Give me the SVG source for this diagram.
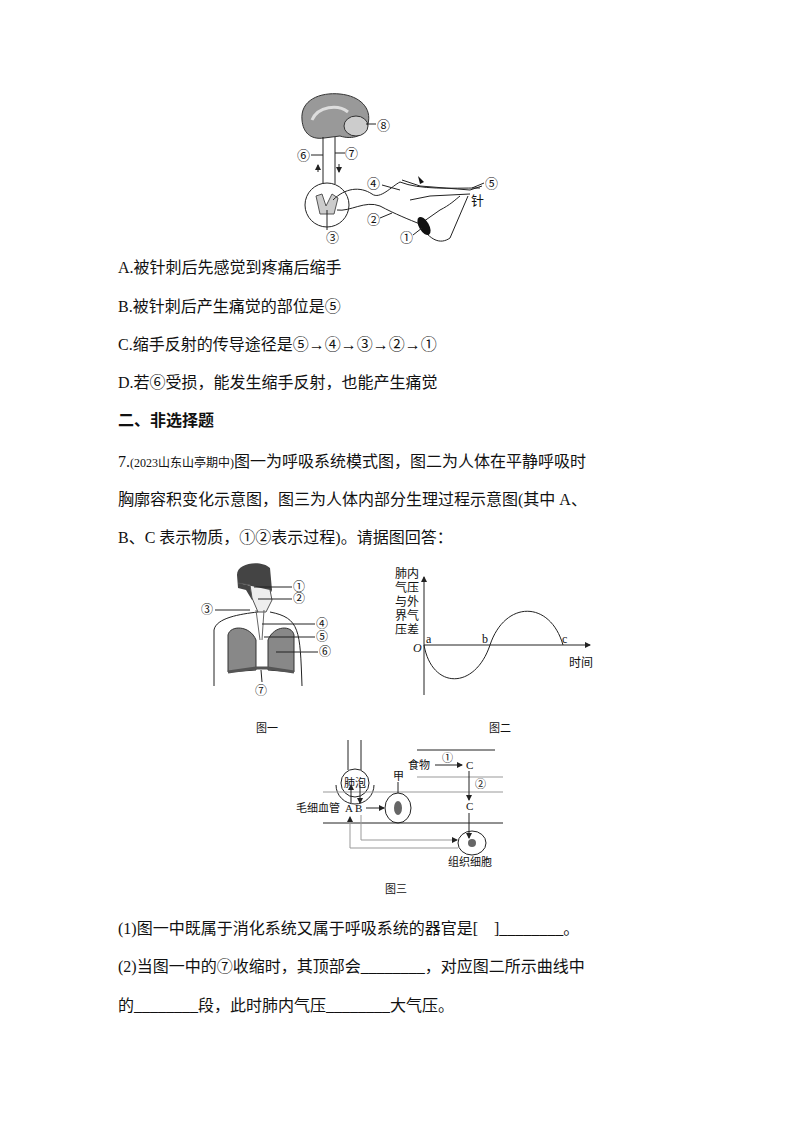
<svg xmlns="http://www.w3.org/2000/svg" width="794" height="1123" viewBox="0 0 794 1123">
<style>
.t{font-family:"Liberation Serif","Noto Sans CJK SC",serif;font-size:16px;fill:#111}
.s{font-family:"Liberation Serif","Noto Sans CJK SC",serif;font-size:13px;fill:#111}
.n{font-family:"Liberation Serif","Noto Sans CJK SC",serif;font-size:12px;fill:#111}
.xs{font-family:"Liberation Serif","Noto Sans CJK SC",serif;font-size:11px;fill:#111}
.l{stroke:#222;stroke-width:1;fill:none}
.g{stroke:#999;stroke-width:1;fill:none}
</style>
<defs><marker id="ar" markerWidth="6" markerHeight="6" refX="5" refY="3" orient="auto"><path d="M0,0L6,3L0,6z" fill="#222"/></marker></defs>
<rect width="794" height="1123" fill="#fff"/>
<g id="reflex">
<path d="M302,120 C300,100 320,92 340,94 C360,96 372,108 368,124 C366,136 352,140 340,136 L324,138 C310,140 303,132 302,120z" fill="#999" stroke="#333"/>
<path d="M312,120 C318,106 338,104 348,112" stroke="#ddd" stroke-width="3" fill="none"/>
<ellipse cx="356" cy="126" rx="12" ry="10" fill="#ccc" stroke="#333"/>
<line class="l" x1="323" y1="137" x2="323" y2="184"/><line class="l" x1="335" y1="137" x2="335" y2="184"/>
<line class="l" x1="318" y1="172" x2="318" y2="165" marker-end="url(#ar)"/>
<line class="l" x1="339" y1="164" x2="339" y2="172" marker-end="url(#ar)"/>
<circle cx="327" cy="205" r="22" class="l"/>
<path d="M316,196 L322,194 L326,206 L332,194 L338,198 L334,214 L320,214z" fill="#ccc" stroke="#555"/>
<path class="l" d="M333,200 C345,188 360,186 372,194 C380,200 392,186 400,182 C420,190 450,188 480,188"/>
<path class="l" d="M337,210 C350,212 365,200 380,206 C395,214 410,220 420,224 L440,210 C450,205 455,200 460,196"/>
<path class="l" d="M402,180 L420,186 L470,190 L482,186 M410,200 L430,196 L470,194"/>
<path class="l" d="M420,225 C430,240 440,245 450,238 L462,210 L468,196"/>
<ellipse cx="424" cy="226" rx="5" ry="10" fill="#111" transform="rotate(-30 424 226)"/>
<path d="M418,176 l6,6 l-4,2z" fill="#111"/>
<line class="l" x1="327" y1="210" x2="327" y2="230"/>
<line class="l" x1="366" y1="124" x2="376" y2="124"/>
<line class="l" x1="311" y1="155" x2="323" y2="155"/><line class="l" x1="335" y1="153" x2="345" y2="153"/>
<line class="l" x1="382" y1="185" x2="400" y2="190"/>
<line class="l" x1="484" y1="183" x2="472" y2="188"/>
<line class="l" x1="380" y1="218" x2="392" y2="213"/>
<line class="l" x1="413" y1="235" x2="422" y2="228"/>
<text class="s" x="377" y="130">⑧</text><text class="s" x="297" y="160">⑥</text><text class="s" x="345" y="158">⑦</text>
<text class="s" x="367" y="188">④</text><text class="s" x="485" y="188">⑤</text><text class="s" x="471" y="205">针</text>
<text class="s" x="367" y="224">②</text><text class="s" x="326" y="242">③</text><text class="s" x="400" y="242">①</text>
</g>
<text class="t" x="118" y="273">A.被针刺后先感觉到疼痛后缩手</text>
<text class="t" x="118" y="312">B.被针刺后产生痛觉的部位是⑤</text>
<text class="t" x="118" y="350">C.缩手反射的传导途径是⑤→④→③→②→①</text>
<text class="t" x="118" y="388">D.若⑥受损，能发生缩手反射，也能产生痛觉</text>
<text class="t" x="118" y="426" font-weight="bold">二、非选择题</text>
<text class="t" x="118" y="467">7.<tspan font-size="12">(2023山东山亭期中)</tspan>图一为呼吸系统模式图，图二为人体在平静呼吸时</text>
<text class="t" x="118" y="505">胸廓容积变化示意图，图三为人体内部分生理过程示意图(其中 A、</text>
<text class="t" x="118" y="543">B、C 表示物质，①②表示过程)。请据图回答：</text>
<g id="fig1">
<path d="M237,575 C237,562 262,560 270,568 L272,590 L268,600 L252,600 L246,590 L238,588z" fill="#444"/>
<path d="M238,583 L250,585 L252,598 L258,612 L266,612 L272,600 L270,590" fill="#eee" stroke="#555"/>
<path class="l" d="M214,686 L214,630 C216,618 240,614 258,612 M270,612 C300,618 300,630 302,686"/>
<path d="M228,635 C230,625 250,625 256,640 L256,670 L228,672z" fill="#888" stroke="#333"/>
<path d="M268,640 C274,625 292,625 294,635 L294,672 L268,670z" fill="#888" stroke="#333"/>
<path d="M256,610 L260,640 M264,610 L262,640" stroke="#666" fill="none"/>
<path d="M228,672 L256,668 L268,668 L294,672" stroke="#555" stroke-width="3" fill="none"/>
<g class="l"><line x1="254" y1="587" x2="292" y2="587"/><line x1="258" y1="599" x2="292" y2="599"/>
<line x1="215" y1="610" x2="250" y2="610"/><line x1="262" y1="624" x2="315" y2="624"/>
<line x1="264" y1="637" x2="315" y2="637"/><line x1="276" y1="652" x2="318" y2="652"/><line x1="261" y1="670" x2="262" y2="682"/></g>
<text class="n" x="293" y="591">①</text><text class="n" x="293" y="603">②</text><text class="n" x="201" y="614">③</text>
<text class="n" x="316" y="628">④</text><text class="n" x="316" y="641">⑤</text><text class="n" x="319" y="656">⑥</text><text class="n" x="255" y="695">⑦</text>
<text class="xs" x="256" y="732">图一</text>
</g>
<g id="fig2">
<line class="l" x1="424" y1="695" x2="424" y2="577" marker-end="url(#ar)"/>
<line class="l" x1="424" y1="645" x2="590" y2="645" marker-end="url(#ar)"/>
<path class="l" d="M424,645 C432,690 475,690 490,645 C505,600 550,600 563,645"/>
<g class="n"><text x="395" y="578">肺内</text><text x="395" y="592">气压</text><text x="395" y="606">与外</text><text x="395" y="620">界气</text><text x="395" y="634">压差</text>
<text x="413" y="652" font-style="italic">O</text><text x="426" y="643">a</text><text x="482" y="643">b</text><text x="562" y="643">c</text><text x="569" y="667">时间</text></g>
<text class="xs" x="489" y="732">图二</text>
</g>
<g id="fig3">
<line class="l" x1="348" y1="740" x2="348" y2="770"/><line class="l" x1="361" y1="740" x2="361" y2="770"/>
<circle cx="355" cy="783" r="14" class="l"/>
<path class="l" d="M336,785 A19,19 0 0 0 374,785"/>
<text class="xs" x="344" y="787">肺泡</text>
<line class="g" x1="323" y1="792" x2="503" y2="792"/><line class="l" x1="323" y1="823" x2="503" y2="823"/>
<line class="l" x1="417" y1="750" x2="495" y2="750"/><line class="g" x1="417" y1="777" x2="503" y2="777"/>
<text class="xs" x="408" y="769">食物</text><line class="l" x1="435" y1="765" x2="462" y2="765" marker-end="url(#ar)"/>
<text class="xs" x="442" y="762">①</text><text class="xs" x="466" y="769">C</text>
<line class="l" x1="469" y1="771" x2="469" y2="800" marker-end="url(#ar)"/><text class="xs" x="475" y="788">②</text>
<text class="xs" x="466" y="810">C</text><line class="l" x1="469" y1="813" x2="469" y2="838" marker-end="url(#ar)"/>
<ellipse cx="472" cy="843" rx="14" ry="12" class="l"/><circle cx="472" cy="843" r="4" fill="#666"/>
<text class="xs" x="448" y="866">组织细胞</text>
<text class="xs" x="296" y="812">毛细血管</text><text class="xs" x="345" y="812">A B</text>
<line class="l" x1="351" y1="803" x2="351" y2="785" marker-end="url(#ar)"/>
<line class="l" x1="360" y1="785" x2="360" y2="803" marker-end="url(#ar)"/>
<line class="l" x1="366" y1="808" x2="384" y2="808" marker-end="url(#ar)"/>
<ellipse cx="398" cy="808" rx="13" ry="15" class="l"/><ellipse cx="398" cy="808" rx="4" ry="7" fill="#666"/>
<text class="xs" x="393" y="780">甲</text><line class="l" x1="398" y1="782" x2="398" y2="793"/>
<path class="g" d="M361,815 L361,840 L457,840" marker-end="url(#ar)"/>
<path class="g" d="M458,848 L350,848 L350,817" marker-end="url(#ar)"/>
<text class="xs" x="385" y="893">图三</text>
</g>
<text class="t" x="118" y="934">(1)图一中既属于消化系统又属于呼吸系统的器官是[　]________。</text>
<text class="t" x="118" y="972">(2)当图一中的⑦收缩时，其顶部会________，对应图二所示曲线中</text>
<text class="t" x="118" y="1011">的________段，此时肺内气压________大气压。</text>
</svg>
